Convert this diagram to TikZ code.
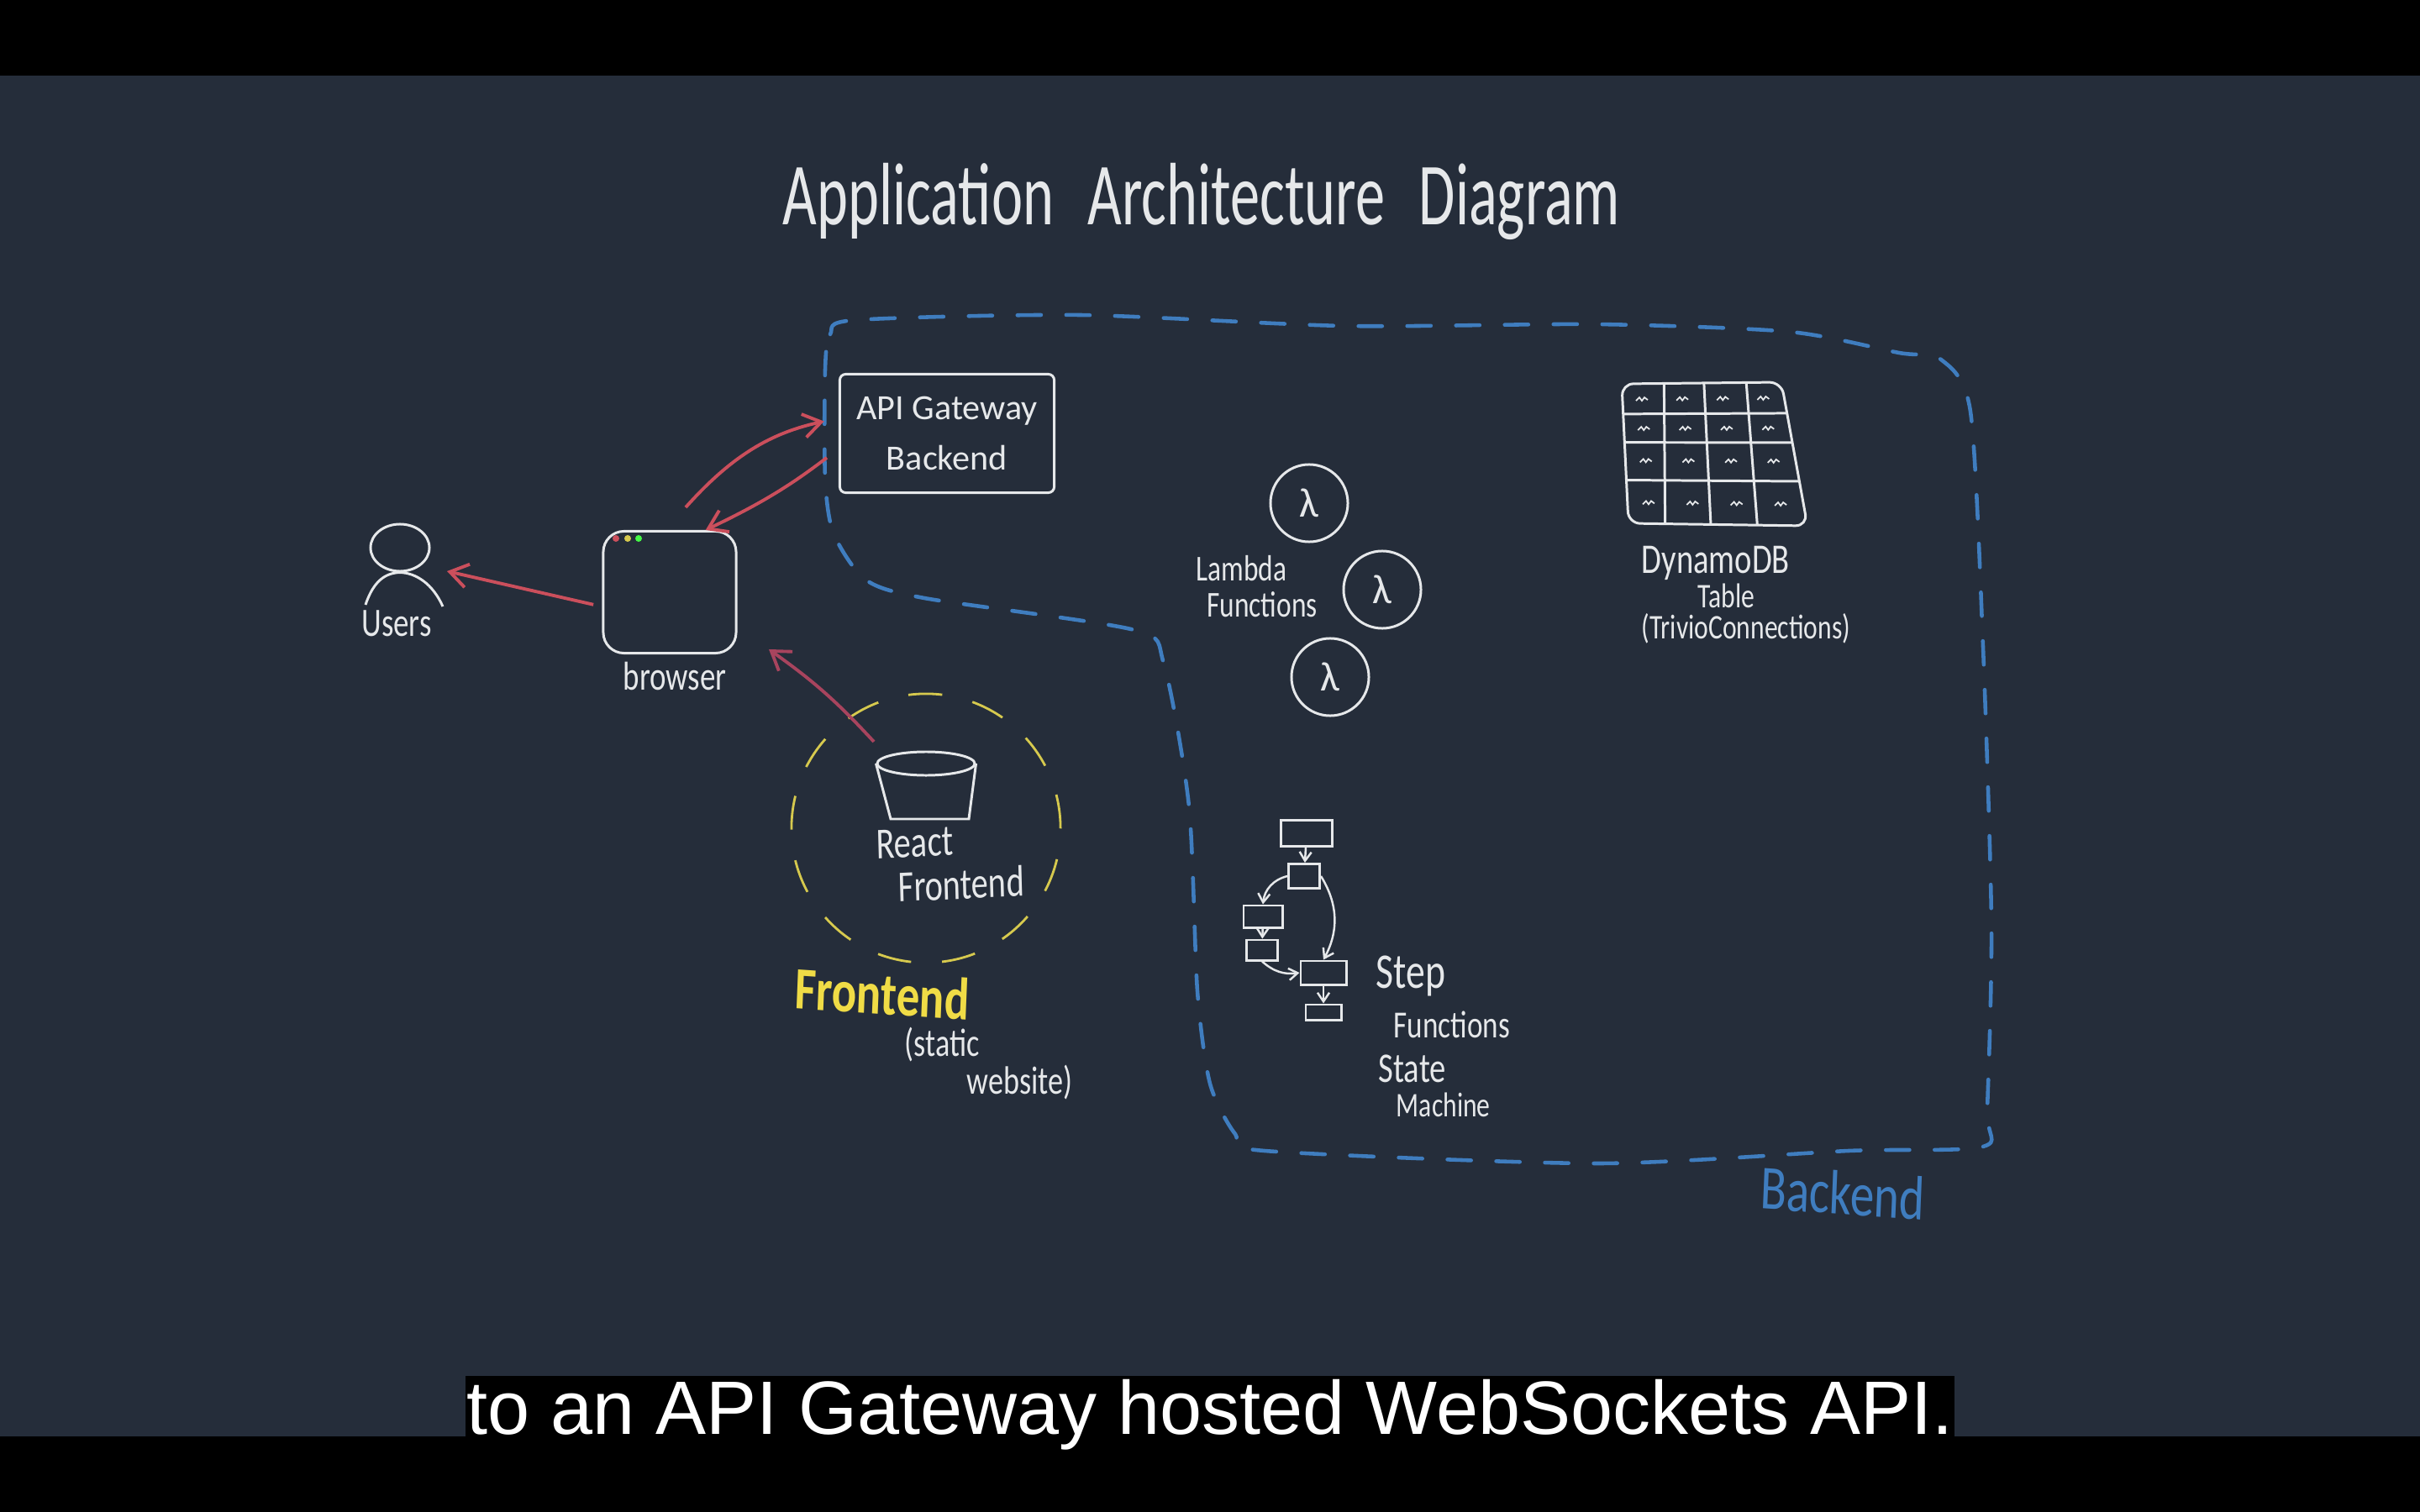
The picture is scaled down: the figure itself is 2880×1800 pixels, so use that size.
\documentclass[tikz,border=0pt]{standalone}
\usepackage{fontspec}
\setmainfont{Carlito}
\usepackage{xcolor}
\usetikzlibrary{arrows.meta,positioning,calc,shapes.geometric}
\newfontfamily\capfont{Liberation Sans}
\definecolor{slatebg}{HTML}{252D3A}
\definecolor{chalk}{HTML}{E6E8EA}
\definecolor{linkred}{HTML}{CB4F5C}
\definecolor{linkwine}{HTML}{A8445E}
\definecolor{backblue}{HTML}{3F7DBF}
\definecolor{frontyel}{HTML}{D6C94E}
\definecolor{labelyel}{HTML}{F0DC46}

\begin{document}
\begin{tikzpicture}[
      x=0.01cm,y=-0.01cm,
      node distance=0.1cm,
      sketch/.style={draw=chalk,line width=0.85pt},
      hand/.style={text=chalk,inner sep=0pt,align=left,transform shape,yscale=1.3,
                   font=\fontsize{10.5pt}{10.5pt}\selectfont},
      lamb/.style={circle,sketch,text=chalk,minimum size=0.92cm,inner sep=0pt,
                   font=\fontsize{14pt}{14pt}\selectfont},
      stepbox/.style={rectangle,sketch,inner sep=0pt},
      stepline/.style={-{Straight Barb[length=3pt,width=4pt]},draw=chalk,line width=0.7pt},
      arr/.style={-{Straight Barb[length=6pt,width=8pt]},line width=1.1pt,linkred}]
    \useasboundingbox (0,0) rectangle (2880,1800);
    \fill[slatebg] (0,0) rectangle (2880,1800);
    \fill[black] (0,0) rectangle (2880,90);
    \fill[black] (0,1710) rectangle (2880,1800);

    \node[text=chalk,inner sep=0pt,transform shape,yscale=1.5,
          font=\fontsize{20pt}{20pt}\selectfont] (title) at (1430,240)
      {Application\hspace{0.35em} Architecture\hspace{0.35em} Diagram};

    % backend boundary
    \draw[backblue,line width=1.3pt,dash pattern=on 8pt off 8.5pt,line cap=round]
      plot[smooth cycle,tension=0.45] coordinates {(982,440) (988,398) (1018,381)
        (1285,375) (1600,388) (1900,386) (2130,395) (2260,420) (2310,428) (2345,490)
        (2360,770) (2370,1100) (2365,1320) (2360,1365) (2200,1370) (1900,1385)
        (1505,1370) (1470,1350) (1440,1290) (1425,1180) (1415,960) (1385,790)
        (1350,750) (1100,712) (1030,690) (992,635) (982,570)};
    \node[hand,text=backblue,font=\fontsize{16.3pt}{16pt}\selectfont,rotate=-3]
      (backlabel) at (2193,1420) {Backend};

    % users
    \node[ellipse,sketch,minimum width=0.7cm,minimum height=0.56cm,inner sep=0pt]
      (head) at (476,652) {};
    \coordinate (armleft) at (435,720);
    \coordinate (armright) at (527,722);
    \draw[sketch] (armleft) .. controls (445,690) and (460,682) .. (head.south)
      .. controls (495,682) and (515,695) .. (armright);
    \node[hand] (users) at (472,742) {Users};

    % browser
    \node[rectangle,sketch,rounded corners=7pt,minimum width=1.58cm,minimum height=1.45cm]
      (browser) at (797,705) {};
    \fill[linkred] (733,641) circle (4);
    \fill[frontyel] (747,641) circle (4);
    \fill[green!70!chalk] (760,641) circle (4);
    \node[hand] (browserlabel) at (803,805) {browser};

    % gateway
    \node[rectangle,sketch,rounded corners=2pt,minimum width=2.55cm,minimum height=1.41cm,
          text=chalk,align=center,font=\fontsize{12pt}{17pt}\selectfont]
      (gateway) at (1127,516) {API Gateway\\Backend};

    % frontend
    \node[circle,draw=frontyel,line width=0.8pt,dash pattern=on 11.5pt off 10.5pt,
          minimum size=3.2cm,inner sep=0pt] (front) at (1102,986) {};
    \node[ellipse,sketch,minimum width=1.16cm,minimum height=0.28cm,inner sep=0pt]
      (bucket) at (1102,909) {};
    \coordinate (bucketbl) at (1060,975);
    \coordinate (bucketbr) at (1153,975);
    \draw[sketch] (bucket.west) -- (bucketbl) -- (bucketbr) -- (bucket.east);
    \node[hand,anchor=west,rotate=2,font=\fontsize{11.5pt}{11.5pt}\selectfont]
      (react) at (1043,1032) {React\\\hspace{7pt}Frontend};
    \node[hand,text=labelyel,font=\bfseries\fontsize{15.6pt}{15pt}\selectfont,rotate=-3]
      (frontlabel) at (1050,1183) {Frontend};
    \node[hand,anchor=west,font=\fontsize{10.3pt}{7.5pt}\selectfont]
      (static) at (1076,1266) {(static\\\hspace{21pt}website)};

    % arrows
    \coordinate (usertip) at (532,680);
    \coordinate (upstart) at (816,604);
    \coordinate (bucketarm) at (1040,883);
    \coordinate (browsertip) at (915,773);
    \draw[arr,shorten <=3pt] (browser.192) -- (usertip);
    \draw[arr,shorten >=5pt] (upstart) to[bend left=18] (gateway.172);
    \draw[arr,shorten <=5pt] (gateway.188) to[bend left=6] (browser.60);
    \draw[arr,linkwine] (bucketarm) to[bend right=6] (browsertip);

    % lambda functions
    \node[lamb] (lama) at (1558,599) {λ};
    \node[lamb] (lamb) at (1645,702) {λ};
    \node[lamb] (lamc) at (1583,806) {λ};
    \node[hand,anchor=west,font=\fontsize{9.5pt}{9.5pt}\selectfont]
      (lamlabel) at (1423,698) {Lambda\\\hspace{3.6pt}Functions};

    % dynamodb table
    \coordinate (tl) at (1930,457);
    \coordinate (tr) at (2120,455);
    \coordinate (br) at (2151,626);
    \coordinate (bl) at (1938,623);
    \draw[sketch,rounded corners=4pt] (tl) -- (tr) -- (br) -- (bl) -- cycle;
    \foreach \f in {0.216,0.42,0.69}
      \draw[sketch] ($(tl)!\f!(bl)$) -- ($(tr)!\f!(br)$);
    \draw[sketch] ($(tl)!0.265!(tr)$) -- ($(bl)!0.205!(br)$);
    \draw[sketch] ($(tl)!0.515!(tr)$) -- ($(bl)!0.46!(br)$);
    \draw[sketch] ($(tl)!0.78!(tr)$) -- ($(bl)!0.72!(br)$);
    \foreach \u in {0.12,0.37,0.62,0.87}
      \foreach \v in {0.11,0.32,0.55,0.85}
        \draw[draw=chalk,line width=0.5pt] ($($(tl)!\u!(tr)$)!\v!($(bl)!\u!(br)$)$)
          ++(-7,2) -- ++(4,-4) -- ++(3,4) -- ++(3,-4) -- ++(4,3);
    \node[hand,anchor=west,font=\fontsize{9pt}{8pt}\selectfont] (dynlabel) at (1953,708)
      {{\fontsize{11pt}{8pt}\selectfont DynamoDB}\\\hspace{19pt}Table\\(TrivioConnections)};

    % step functions
    \node[stepbox,minimum width=0.6cm,minimum height=0.31cm] (sa) at (1555,992) {};
    \node[stepbox,minimum width=0.37cm,minimum height=0.29cm] (sb) at (1552,1043) {};
    \node[stepbox,minimum width=0.46cm,minimum height=0.26cm] (sc) at (1503,1091) {};
    \node[stepbox,minimum width=0.37cm,minimum height=0.24cm] (sd) at (1502,1131) {};
    \node[stepbox,minimum width=0.54cm,minimum height=0.28cm] (se) at (1575,1158) {};
    \node[stepbox,minimum width=0.42cm,minimum height=0.18cm] (sf) at (1575,1205) {};
    \draw[stepline] (sa) -- (sb);
    \draw[stepline] (sb.west) to[bend right=35] (sc.north);
    \draw[stepline] (sc) -- (sd);
    \draw[stepline] (sd.south) to[bend right=25] (se.west);
    \draw[stepline] (sb.east) to[bend left=30] (se.north);
    \draw[stepline] (se) -- (sf);
    \node[hand,anchor=west,font=\fontsize{10pt}{13pt}\selectfont] (steplabel) at (1637,1187)
      {{\fontsize{13pt}{13pt}\selectfont Step}\\\hspace{6pt}Functions};
    \node[hand,anchor=west,font=\fontsize{9pt}{9pt}\selectfont] (statelabel) at (1640,1293)
      {{\fontsize{11pt}{9pt}\selectfont State}\\\hspace{6pt}Machine};

    % caption
    \node[fill=black,text=white,inner xsep=0pt,inner ysep=0pt,minimum width=17.7cm,
          minimum height=0.72cm,text height=19.8pt,text depth=0.5pt,
          font=\capfont\fontsize{25.6pt}{26pt}\selectfont]
      (caption) at (1440,1674) {to an API Gateway hosted WebSockets API.};
  \end{tikzpicture}
\end{document}
